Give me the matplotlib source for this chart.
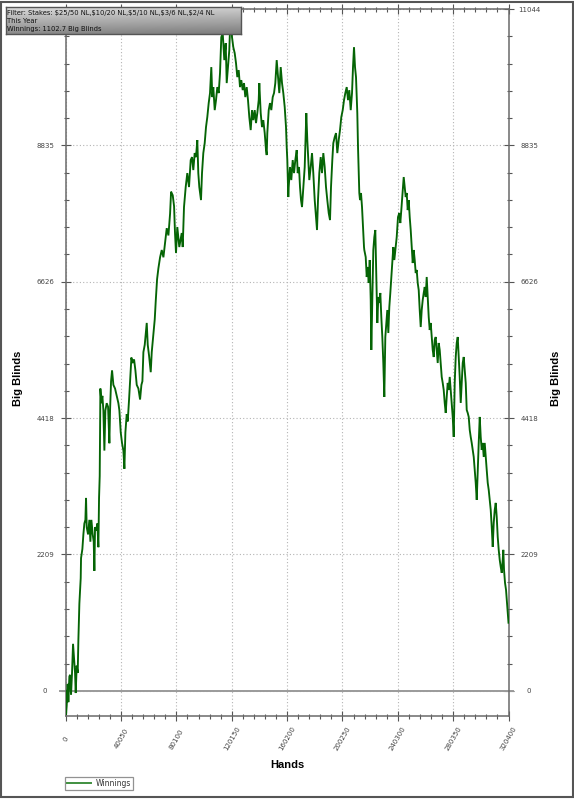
import numpy as np
import matplotlib
matplotlib.use("Agg")
import matplotlib.pyplot as plt
from matplotlib.ticker import MultipleLocator, FixedLocator, FixedFormatter
from matplotlib.patches import Rectangle

# ---------------- data ----------------
hands = [0, 240, 720, 1450, 1930, 2650, 3140, 3860, 4580, 5310, 6030, 6760, 7240, 7960, 8690,
         9170, 9890, 10860, 11100, 12070, 12790, 13510, 14240, 14720, 15200, 16170, 17130, 17860,
         18580, 19550, 20270, 20750, 21230, 21960, 22920, 23650, 24130, 24610, 24850, 25100, 25820,
         26540, 27270, 27990, 28710, 29680, 30650, 31610, 32090, 32820, 33540, 34510, 35710, 36920,
         38130, 38850, 39810, 40780, 41750, 42470, 43190, 44160, 44880, 45850, 46570, 47540, 48260,
         49470, 50430, 51400, 52600, 53810, 54780, 55500, 56220, 57190, 58150, 58640, 59360, 60330,
         61530, 62260, 63460, 64430, 65150, 66120, 67080, 68290, 69490, 70700, 71910, 73110, 74320,
         75530, 76250, 77450, 78420,
         79090, 79810, 80750, 82200, 83940, 84660, 85600, 86830, 87990, 89220, 90450, 91390, 92330,
         93340, 94290, 95230, 95950, 96670, 97900, 98630, 99570, 100580, 101520, 102460, 103470,
         104420, 105360, 106080, 106800, 107820, 108760, 109700, 110710, 111650, 112590, 113610,
         114770, 115780, 116500, 117440, 118380, 119390, 120330, 121270, 122290, 123230, 124170,
         125180, 126120, 127060, 128080, 129020, 129960, 130970, 131910, 132850, 133860, 134800,
         135750, 136760, 137700, 138640, 139650, 140090, 141100, 142040, 142980, 144000, 144940,
         145440, 145880, 146890, 147830, 148770, 149790, 150730, 151670, 152680, 153620, 154560,
         155570, 156520, 157460, 158470, 159410, 159920, 160350, 161070, 161360, 162300, 163240,
         164260, 165200, 166140, 167150, 167870, 168810, 169540, 170260, 170990, 171930, 172940,
         173670, 174100, 174820, 175540, 176270, 177280, 178220, 179160, 180180, 181120, 181840,
         182560, 183500, 184520, 185460, 186400, 187410, 188350, 189290, 190310, 191250, 191970,
         192910, 193640, 194650, 195590, 196530, 197540, 198480, 199420, 200440, 201380, 202320,
         203330, 204270, 205210, 206230, 207170, 207890, 208610, 209340, 210060, 210570, 211000,
         211510, 212020, 212450, 212960, 213680, 214410, 215130, 215850,
         216070, 217080, 217810, 218530, 219250, 219980, 220700, 221140, 221860, 222580, 223310,
         224030, 224750, 225480, 226200, 226930, 227650, 228370, 229100, 229820, 230540, 231270,
         231990, 232710, 233440, 234160, 234880, 235610, 236330, 237050, 237780, 238500, 239510,
         240450, 241390, 242120, 242840, 243850, 244580, 245300, 246020, 246750, 247470, 248200,
         248920, 249640, 250370, 251090, 251820, 252540, 253260, 253990, 254710, 255430, 256160,
         256880, 257600, 258330, 259050, 259780, 260500, 261220, 261950, 262670, 263390, 264110,
         264840, 265560, 266290, 267010, 267730, 268460, 269180, 269910, 270630, 271350, 272080,
         272800, 273520, 274250, 274970, 275690, 276420, 277140, 277870, 278590, 279310, 280040,
         280760, 281480, 282210, 282930, 283660, 284380, 285100, 285830, 286550, 287270, 288000,
         288720, 289450, 290170, 290890, 291620, 292340, 293060, 293790, 294510, 295240, 295960,
         296680, 297410, 298130, 298850, 299580, 300300, 301020, 301750, 302470, 303190, 303920,
         304640, 305370, 306090, 306810, 307540, 308260, 308980, 309710, 310430, 311150, 311880,
         312600, 313320, 314050, 314770, 315500, 316220, 316650, 317160, 317880, 318610, 319330,
         320400]

big_blinds = [0, -390, -243, 112, -184, 230, 259, -65, 289, 761, 525, 289, -36, 407, 289,
              820, 1411, 1824, 2149, 2297, 2533, 2710, 2769, 3124, 2651, 2533, 2769, 2415,
              2769, 2533, 2415, 1943, 2651, 2592, 2710, 2326, 3124, 3478, 4305, 4896, 4659,
              4778, 4541, 3891, 4541, 4659, 4600, 4010, 4541, 5014, 5191, 4955, 4896, 4778,
              4659, 4541, 4187, 4010, 3891, 3596, 4187, 4482, 4364, 4718, 5014, 5398, 5309,
              5368, 5191, 4955, 4896, 4718, 4955, 5014, 5486, 5604, 5841, 5959, 5604, 5427,
              5161, 5486, 5781, 6017, 6313, 6667, 6845, 7022, 7140, 7022, 7258, 7494, 7376,
              7730, 8085, 8026, 7848,
              7415, 7091, 7512, 7188, 7415, 7188, 7836, 8160, 8386, 8160, 8597, 8645, 8435,
              8710, 8645, 8921, 8386, 8160, 7949, 8386, 8710, 8872, 9131, 9293, 9520,
              9682, 10103, 9617, 9779, 9406, 9568, 9779, 9682, 10005, 10588, 10653,
              10216, 10491, 9844, 10103, 10378, 11044, 10588, 10426, 10329, 10167, 9941,
              10054, 9779, 9892, 9730, 9844, 9617, 9779, 9568, 9293, 9083, 9406,
              9244, 9406, 9196, 9358, 9568, 9844, 9358, 9131, 9244, 9034, 8759,
              8678, 9034, 9406, 9520, 9406, 9617, 9682, 9844, 10216, 9941, 9682,
              10103, 9844, 9682, 9455, 9131, 8807, 8597, 7998, 8160, 8484, 8273,
              8597, 8386, 8597, 8759, 8386, 8484, 8160, 7949, 7836, 8160, 8484,
              9034, 9358, 8921, 8597, 8273, 8484, 8710, 8386, 7949, 7674, 7464,
              7949, 8386, 8645, 8386, 8710, 8484, 8160, 7949, 7739, 7625, 8160,
              8597, 8872, 8969, 9034, 8710, 8921, 9083, 9293, 9406, 9568, 9682,
              9779, 9568, 9730, 9406, 9682, 10103, 10426, 10103, 9941, 9617, 9358,
              8807, 8386, 8063, 7949, 8063, 7836, 7512, 7188,
              7140, 7026, 6703, 6865, 6606, 6978, 6330, 5521, 6330, 7140, 7350,
              7464, 6703, 5958, 6379, 6282, 6444, 6055, 5731, 5310, 4760, 5731,
              5958, 6168, 5796, 6217, 6444, 6703, 6978, 7188, 6978, 7140, 7350,
              7674, 7739, 7577, 7787, 8111, 8322, 8160, 7998, 8063, 7787, 7949,
              7674, 7464, 7188, 6929, 7140, 6978, 6767, 6816, 6606, 6492, 6168,
              5893, 6168, 6330, 6444, 6541, 6379, 6703, 6379, 6055, 5845, 5958,
              5731, 5521, 5407, 5683, 5731, 5521, 5310, 5634, 5521, 5310, 5084,
              4987, 4873, 4663, 4501, 4760, 4987, 4873, 5084, 4873, 4663, 4436,
              4112, 4987, 5407, 5634, 5731, 5407, 5084, 4663, 4987, 5310, 5407,
              5197, 4987, 4549, 4501, 4436, 4226, 4112, 4015, 3902, 3788, 3578,
              3368, 3092, 3578, 4015, 4436, 4112, 3902, 4015, 3788, 4015, 3788,
              3578, 3368, 3254, 3092, 2930, 2655, 2331, 2720, 2930, 3044, 2817,
              2493, 2283, 2121, 2008, 1910, 2121, 2283, 1959, 1749, 1635, 1425,
              1102.7]

x_ticks = [0, 40050, 80100, 120150, 160200, 200250, 240300, 280350, 320400]
y_ticks = [0, 2208.8, 4417.6, 6626.4, 8835.2, 11044]
y_tick_labels = ["0", "2209", "4418", "6626", "8835", "11044"]
filter_lines = ["Filter: Stakes: $25/50 NL,$10/20 NL,$5/10 NL,$3/6 NL,$2/4 NL",
                "This Year",
                "Winnings: 1102.7 Big Blinds"]
series_name = "Winnings"

# ---------------- layout helpers ----------------
W_PX, H_PX = 574, 799


def fx(px):
    return px / W_PX


def fy(py):
    return 1 - py / H_PX


fig = plt.figure(figsize=(W_PX / 100, H_PX / 100), dpi=100, facecolor="white")

ax_left, ax_right, ax_top, ax_bottom = 65.7, 508.5, 9.0, 715.5
ax = fig.add_axes([fx(ax_left), fy(ax_bottom), fx(ax_right - ax_left),
                   (ax_bottom - ax_top) / H_PX])

green = "#056405"
line, = ax.plot(hands, big_blinds, color=green, lw=1.35, solid_joinstyle="miter",
                label=series_name, zorder=3)

ax.set_xlim(0, 320400)
ax.set_ylim(-400, 11044)

ax.xaxis.set_major_locator(FixedLocator(x_ticks))
ax.xaxis.set_minor_locator(MultipleLocator(8010))
ax.yaxis.set_major_locator(FixedLocator(y_ticks))
ax.yaxis.set_major_formatter(FixedFormatter(y_tick_labels))
ax.yaxis.set_minor_locator(MultipleLocator(441.76))

ax.grid(True, which="major", color="#b4b4b4", linestyle=(0, (1, 2)), lw=0.8, zorder=1)
ax.axhline(0, xmin=-0.013, xmax=1.010, color="#9a9a9a", lw=1.4, clip_on=False, zorder=2)

for sp in ax.spines.values():
    sp.set_color("#6a6a6a")
    sp.set_linewidth(1.1)

tick_col = "#555555"
ax.tick_params(which="major", direction="inout", length=6.5, width=0.8, color=tick_col,
               top=True, right=True, labelright=True, labelsize=5, labelcolor="#444444")
ax.tick_params(which="minor", direction="inout", length=3.6, width=0.8, color=tick_col,
               top=True, right=True)
ax.tick_params(axis="y", which="major", pad=11.6)
ax.tick_params(axis="x", which="major", pad=13.5)

ax.set_xticks(x_ticks)
ax.set_xticklabels([str(v) for v in x_ticks], rotation=60, ha="center", va="center")
for t in ax.yaxis.get_major_ticks():
    t.label1.set_ha("center")
    t.label2.set_ha("center")

# axis titles
fig.text(fx(287), fy(765), "Hands", ha="center", va="center", fontsize=8,
         fontweight="bold", family="Liberation Sans")
fig.text(fx(18), fy(378), "Big Blinds", ha="center", va="center", rotation=90,
         fontsize=8, fontweight="bold", family="Liberation Sans")
fig.text(fx(556), fy(378), "Big Blinds", ha="center", va="center", rotation=90,
         fontsize=8, fontweight="bold", family="Liberation Sans")

# filter box with gradient
bx0, by0, bx1, by1 = 5.7, 7.3, 240.5, 34.3
bax = fig.add_axes([fx(bx0), fy(by1), fx(bx1 - bx0), (by1 - by0) / H_PX])
gy = np.linspace(0, 1, 40)[:, None]
gx = np.linspace(0, 1, 200)[None, :]
grad = 0.86 - 0.32 * gy - 0.05 * gx
bax.imshow(grad, cmap="gray", vmin=0, vmax=1, aspect="auto", extent=(0, 1, 0, 1),
           origin="upper")
bax.set_xlim(0, 1)
bax.set_ylim(0, 1)
bax.set_xticks([])
bax.set_yticks([])
for sp in bax.spines.values():
    sp.set_color("#555555")
    sp.set_linewidth(1.0)
for i, s in enumerate(filter_lines):
    bax.text(0.006, 1 - (12.7 + 8.3 * i - by0) / (by1 - by0), s, ha="left", va="center",
             fontsize=4.9, color="#111111", family="DejaVu Sans", transform=bax.transAxes)

# legend
leg = fig.legend(handles=[line], loc="upper left",
                 bbox_to_anchor=(fx(65), fy(777)), frameon=True, fancybox=False,
                 edgecolor="#777777", fontsize=5.5, handlelength=3.2, handleheight=0.6,
                 borderpad=0.25, handletextpad=0.6, borderaxespad=0)
leg.get_frame().set_linewidth(0.9)
for t in leg.get_texts():
    t.set_color("#333333")
for h in leg.legend_handles:
    h.set_color("#3f8f3f")
    h.set_linewidth(1.4)

# figure border
fig.add_artist(Rectangle((0.001, 0.002), 0.997, 0.996, transform=fig.transFigure,
                         fill=False, edgecolor="#555555", lw=1.5))

fig.savefig("out.png", dpi=100, facecolor="white")
